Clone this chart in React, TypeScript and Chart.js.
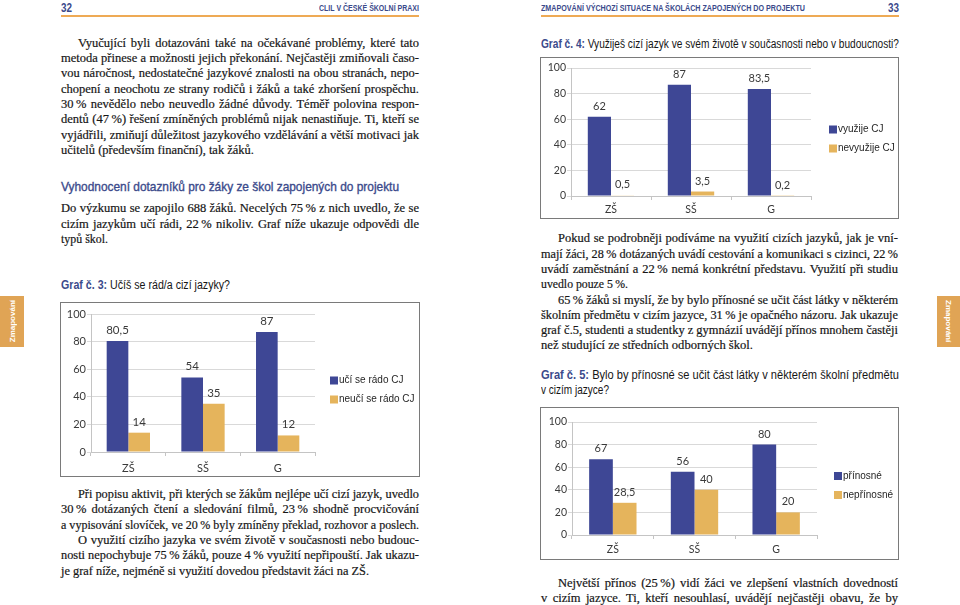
import React, { useEffect, useLayoutEffect, useRef, useState } from "react";
import { Chart, registerables } from "chart.js";

Chart.register(...registerables);

// ---------- DATA ----------
const categories = ["ZŠ", "SŠ", "G"];
const yTickValues = [0, 20, 40, 60, 80, 100];

const g3Labels = ["učí se rádo CJ", "neučí se rádo CJ"];
const g3Likes = [80.5, 54, 87];
const g3Dislikes = [14, 35, 12];

const g4Labels = ["využije CJ", "nevyužije CJ"];
const g4Uses = [62, 87, 83.5];
const g4NoUse = [0.5, 3.5, 0.2];

const g5Labels = ["přínosné", "nepřínosné"];
const g5Useful = [67, 56, 80];
const g5NotUseful = [28.5, 40, 20];

// ---------- STYLE ----------
const BLUE_BAR = "#3e4795";
const GOLD_BAR = "#e5b45c";
const HEAD_BLUE = "#3b4a8b";
const TEXT = "#161616";
const ORANGE = "#eeaa55";
const TAB = "#e0a455";
const SERIF = '"Liberation Serif", "DejaVu Serif", serif';
const SANS = '"Liberation Sans", Arial, sans-serif';
const NARROW = '"Liberation Sans Narrow", "Liberation Sans", sans-serif';

type Part = { t: string; b?: boolean; c?: string };

function Line(props: {
  x: number; y: number; w: number; parts: Part[] | string; font: string; size: number;
  color?: string; mode?: "justify" | "fit" | "none"; indent?: number; lh?: number; weight?: number; stroke?: number;
}) {
  const { x, y, w, font, size, color = TEXT, mode = "justify", indent = 0, lh = 16, weight = 400, stroke = 0 } = props;
  const parts: Part[] = typeof props.parts === "string" ? [{ t: props.parts }] : props.parts;
  const ref = useRef<HTMLSpanElement>(null);
  const [ws, setWs] = useState(0);
  const [sc, setSc] = useState(1);
  useLayoutEffect(() => {
    const el = ref.current;
    if (!el) return;
    const nat = el.getBoundingClientRect().width;
    const avail = w - indent;
    const text = parts.map((p) => p.t).join("");
    const spaces = (text.match(/ /g) || []).length;
    if (mode === "fit") {
      setSc(avail / nat);
    } else if (mode === "justify") {
      if (nat > avail) setSc(avail / nat);
      else if (spaces) setWs((avail - nat) / spaces);
    }
  }, []);
  return (
    <div
      style={{
        position: "absolute", left: x + indent, top: y - lh / 2, height: lh, lineHeight: lh + "px",
        whiteSpace: "pre", fontFamily: font, fontSize: size, color, fontWeight: weight,
        WebkitTextStroke: stroke ? `${stroke}px currentColor` : undefined,
      }}
    >
      <span
        ref={ref}
        style={{ display: "inline-block", wordSpacing: ws, transform: `scaleX(${sc})`, transformOrigin: "left center" }}
      >
        {parts.map((p, i) => (
          <span key={i} style={{ fontWeight: p.b ? 700 : undefined, color: p.c }}>{p.t}</span>
        ))}
      </span>
    </div>
  );
}

type Geo = { top: number; right: number; yw: number; xh: number; lgx: number; xpad: number; fs: number };

function fmt(v: number) {
  return String(v).replace(".", ",");
}

function BarChart(props: {
  left: number; top: number; width: number; height: number;
  names: string[]; a: number[]; b: number[]; geo: Geo;
}) {
  const { left, top, width, height, names, a, b, geo } = props;
  const ref = useRef<HTMLCanvasElement>(null);
  useEffect(() => {
    const valueLabels = {
      id: "valueLabels",
      afterDatasetsDraw(chart: any) {
        const ctx = chart.ctx;
        chart.data.datasets.forEach((d: any, i: number) => {
          const meta = chart.getDatasetMeta(i);
          meta.data.forEach((el: any, j: number) => {
            ctx.save();
            ctx.font = `${geo.fs + 0.5}px Lato, sans-serif`;
            ctx.fillStyle = "#3a3a3a";
            ctx.textAlign = "center";
            ctx.textBaseline = "bottom";
            ctx.fillText(fmt(d.data[j]), el.x, el.y - 5);
            ctx.restore();
          });
        });
      },
    };
    const sideLegend = {
      id: "sideLegend",
      afterDraw(chart: any) {
        const { ctx, chartArea } = chart;
        const ds = chart.data.datasets;
        const cy = (chartArea.top + chartArea.bottom) / 2 + 7;
        ds.forEach((d: any, i: number) => {
          const y = cy + (i - (ds.length - 1) / 2) * 19;
          const x = chartArea.right + geo.lgx;
          ctx.save();
          ctx.fillStyle = d.backgroundColor;
          ctx.fillRect(x, y - 4, 8, 8);
          ctx.fillStyle = "#262626";
          ctx.font = `10px ${SANS}`;
          ctx.textBaseline = "middle";
          ctx.textAlign = "left";
          ctx.fillText(d.label, x + 9, y);
          ctx.restore();
        });
      },
    };
    const tickFont = { family: "Lato, sans-serif", size: geo.fs };
    const chart = new Chart(ref.current as HTMLCanvasElement, {
      type: "bar",
      data: {
        labels: categories,
        datasets: [
          { label: names[0], data: a, backgroundColor: BLUE_BAR, borderWidth: 0, categoryPercentage: 0.58, barPercentage: 1 },
          { label: names[1], data: b, backgroundColor: GOLD_BAR, borderWidth: 0, categoryPercentage: 0.58, barPercentage: 1 },
        ],
      },
      options: {
        responsive: false,
        animation: false,
        devicePixelRatio: 1,
        layout: { padding: { top: geo.top, right: geo.right, left: 0, bottom: 0 } },
        plugins: { legend: { display: false }, tooltip: { enabled: false } },
        scales: {
          x: {
            grid: { drawOnChartArea: false, drawTicks: true, tickLength: 4, color: "#c4c4c4", offset: true },
            border: { color: "#c4c4c4" },
            ticks: { font: tickFont, color: "#3a3a3a", padding: geo.xpad },
            afterFit: (s: any) => { s.height = geo.xh; },
          },
          y: {
            min: 0,
            max: 100,
            afterBuildTicks: (s: any) => { s.ticks = yTickValues.map((v) => ({ value: v })); },
            grid: { color: "#d9d9d9", tickLength: 4 },
            border: { color: "#c4c4c4" },
            ticks: { font: tickFont, color: "#3a3a3a", padding: 1 },
            afterFit: (s: any) => { s.width = geo.yw; },
          },
        },
      },
      plugins: [valueLabels, sideLegend],
    } as any);
    return () => chart.destroy();
  }, []);
  return (
    <div
      style={{
        position: "absolute", left, top, width, height, border: "1px solid #7a7a7a",
        boxSizing: "border-box", background: "#fff",
      }}
    >
      <canvas ref={ref} width={width - 2} height={height - 2} style={{ display: "block", width: width - 2, height: height - 2 }} />
    </div>
  );
}

const TS = "\u2009";

export default function App() {
  const L = 61, LW = 358, R = 541, RW = 357, IND = 17, SZ = 12.5, ST = 0.2;
  const ser = (x: number, w: number) => ({ x, w, font: SERIF, size: SZ, stroke: ST });
  const leftP1 = [
    "Vyučující byli dotazováni také na očekávané problémy, které tato",
    "metoda přinese a možnosti jejich překonání. Nejčastěji zmiňovali časo-",
    "vou náročnost, nedostatečné jazykové znalosti na obou stranách, nepo-",
    "chopení a neochotu ze strany rodičů i žáků a také zhoršení prospěchu.",
    `30${TS}% nevědělo nebo neuvedlo žádné důvody. Téměř polovina respon-`,
    `dentů (47${TS}%) řešení zmíněných problémů nijak nenastiňuje. Ti, kteří se`,
    "vyjádřili, zmiňují důležitost jazykového vzdělávání a větší motivaci jak",
  ];
  const leftP1y = [42.7, 58, 73.3, 88.6, 103.9, 119.2, 134.5, 149.8];
  const leftP2 = [
    `Do výzkumu se zapojilo 688 žáků. Necelých 75${TS}% z nich uvedlo, že se`,
    `cizím jazykům učí rádi, 22${TS}% nikoliv. Graf níže ukazuje odpovědi dle`,
  ];
  const leftP3 = [
    "Při popisu aktivit, při kterých se žákům nejlépe učí cizí jazyk, uvedlo",
    `30${TS}% dotázaných čtení a sledování filmů, 23${TS}% shodně procvičování`,
    `a vypisování slovíček, ve 20${TS}% byly zmíněny překlad, rozhovor a poslech.`,
    "O využití cizího jazyka ve svém životě v současnosti nebo budouc-",
    `nosti nepochybuje 75${TS}% žáků, pouze 4${TS}% využití nepřipouští. Jak ukazu-`,
  ];
  const leftP3y = [494, 509.3, 524.6, 540, 555.3, 570.6];
  const rightP = [
    "Pokud se podrobněji podíváme na využití cizích jazyků, jak je vní-",
    `mají žáci, 28${TS}% dotázaných uvádí cestování a komunikaci s cizinci, 22${TS}%`,
    `uvádí zaměstnání a 22${TS}% nemá konkrétní představu. Využití při studiu`,
  ];
  const rightP2 = [
    `65${TS}% žáků si myslí, že by bylo přínosné se učit část látky v některém`,
    `školním předmětu v cizím jazyce, 31${TS}% je opačného názoru. Jak ukazuje`,
    "graf č.5, studenti a studentky z gymnázií uvádějí přínos mnohem častěji",
  ];
  const rightPy = [238.3, 253.6, 268.9, 284.2, 299.5, 314.8, 330.1, 345.4];

  return (
    <div style={{ position: "absolute", left: 0, top: 0, width: 960, height: 605, background: "#fff", overflow: "hidden" }}>
      {/* headers */}
      <Line x={61} y={7.5} w={11} parts="32" font={NARROW} size={13} color={HEAD_BLUE} weight={700} mode="fit" />
      <Line x={319} y={7.5} w={100} parts="CLIL V ČESKÉ ŠKOLNÍ PRAXI" font={NARROW} size={9.5} color={HEAD_BLUE} weight={700} mode="fit" />
      <div style={{ position: "absolute", left: 61, top: 15, width: 358, height: 2, background: ORANGE }} />
      <Line x={541} y={7.5} w={264} parts="ZMAPOVÁNÍ VÝCHOZÍ SITUACE NA ŠKOLÁCH ZAPOJENÝCH DO PROJEKTU" font={NARROW} size={9.5} color={HEAD_BLUE} weight={700} mode="fit" />
      <Line x={888} y={7.5} w={11} parts="33" font={NARROW} size={13} color={HEAD_BLUE} weight={700} mode="fit" />
      <div style={{ position: "absolute", left: 541, top: 15, width: 358, height: 2, background: ORANGE }} />

      {/* side tabs */}
      <div style={{ position: "absolute", left: 0, top: 296, width: 24, height: 51, background: TAB, display: "flex", alignItems: "center", justifyContent: "center" }}>
        <span style={{ writingMode: "vertical-rl", transform: "rotate(180deg)", color: "#fff", fontFamily: SANS, fontWeight: 700, fontSize: 8 }}>Zmapování</span>
      </div>
      <div style={{ position: "absolute", left: 937, top: 296, width: 23, height: 51, background: TAB, display: "flex", alignItems: "center", justifyContent: "center" }}>
        <span style={{ writingMode: "vertical-rl", color: "#fff", fontFamily: SANS, fontWeight: 700, fontSize: 8 }}>Zmapování</span>
      </div>

      {/* left page text */}
      {leftP1.map((t, i) => (
        <Line key={"a" + i} {...ser(L, LW)} y={leftP1y[i]} parts={t} indent={i === 0 ? IND : 0} />
      ))}
      <Line {...ser(L, 193)} y={leftP1y[7]} parts="učitelů (především finanční), tak žáků." mode="fit" />

      <Line x={L} y={186.7} w={338} parts="Vyhodnocení dotazníků pro žáky ze škol zapojených do projektu" font={SANS} size={13} color={HEAD_BLUE} stroke={0.35} mode="fit" />
      {leftP2.map((t, i) => (
        <Line key={"b" + i} {...ser(L, LW)} y={208.3 + i * 15.2} parts={t} />
      ))}
      <Line {...ser(L, 47)} y={238.7} parts="typů škol." mode="fit" />

      <Line x={L} y={285} w={169} parts={[{ t: "Graf č. 3:", b: true, c: HEAD_BLUE }, { t: " Učíš se rád/a cizí jazyky?" }]} font={SANS} size={12} mode="fit" />

      <BarChart left={60} top={302} width={360} height={175} names={g3Labels} a={g3Likes} b={g3Dislikes}
        geo={{ top: 11, right: 104, yw: 30, xh: 24, lgx: 15, xpad: 6, fs: 11 }} />

      {leftP3.map((t, i) => (
        <Line key={"c" + i} {...ser(L, LW)} y={leftP3y[i]} parts={t} indent={i === 0 || i === 3 ? IND : 0} />
      ))}
      <Line {...ser(L, 308)} y={leftP3y[5]} parts="je graf níže, nejméně si využití dovedou představit žáci na ZŠ." mode="fit" />

      {/* right page */}
      <Line x={R} y={44.3} w={358} parts={[{ t: "Graf č. 4:", b: true, c: HEAD_BLUE }, { t: " Využiješ cizí jazyk ve svém životě v současnosti nebo v budoucnosti?" }]} font={SANS} size={12} mode="fit" />

      <BarChart left={540} top={57} width={359} height={162} names={g4Labels} a={g4Uses} b={g4NoUse}
        geo={{ top: 10, right: 87, yw: 30, xh: 22, lgx: 18, xpad: 3, fs: 10.5 }} />

      {rightP.map((t, i) => (
        <Line key={"d" + i} {...ser(R, RW)} y={rightPy[i]} parts={t} indent={i === 0 ? IND : 0} />
      ))}
      <Line {...ser(R, 87)} y={rightPy[3]} parts={`uvedlo pouze 5${TS}%.`} mode="fit" />
      {rightP2.map((t, i) => (
        <Line key={"e" + i} {...ser(R, RW)} y={rightPy[4 + i]} parts={t} indent={i === 0 ? IND : 0} />
      ))}
      <Line {...ser(R, 212)} y={rightPy[7]} parts="než studující ze středních odborných škol." mode="fit" />

      <Line x={R} y={375} w={358} parts={[{ t: "Graf č. 5:", b: true, c: HEAD_BLUE }, { t: " Bylo by přínosné se učit část látky v některém školní předmětu" }]} font={SANS} size={12} mode="justify" />
      <Line x={R} y={389.5} w={68} parts="v cizím jazyce?" font={SANS} size={12} mode="fit" />

      <BarChart left={540} top={407} width={359} height={153} names={g5Labels} a={g5Useful} b={g5NotUseful}
        geo={{ top: 14, right: 81, yw: 31, xh: 24, lgx: 17, xpad: 4, fs: 10.5 }} />

      <Line {...ser(R, RW)} y={582.7} parts={`Největší přínos (25${TS}%) vidí žáci ve zlepšení vlastních dovedností`} indent={IND} />
      <Line {...ser(R, RW)} y={598} parts="v cizím jazyce. Ti, kteří nesouhlasí, uvádějí nejčastěji obavu, že by" />
    </div>
  );
}
